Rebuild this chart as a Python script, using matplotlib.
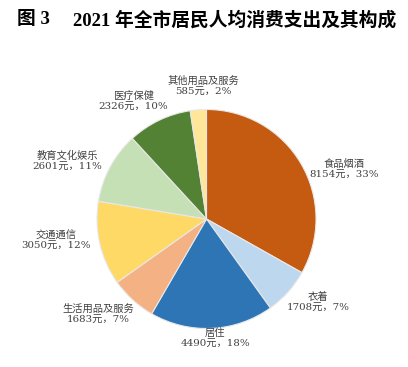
import matplotlib
matplotlib.use('Agg')
import matplotlib.pyplot as plt

# 数据
categories = ['食品烟酒', '衣着', '居住', '生活用品及服务',
              '交通通信', '教育文化娱乐', '医疗保健', '其他用品及服务']
values = [8154, 1708, 4490, 1683, 3050, 2601, 2326, 585]
percents = [33, 7, 18, 7, 12, 11, 10, 2]
colors = ['#C55A11', '#BDD7EE', '#2E75B6', '#F4B183',
          '#FFD966', '#C5E0B4', '#548235', '#FFE699']

# 标签位置（以半径为单位，相对饼心）
label_pos = [(1.26, 0.45), (1.02, -0.76), (0.08, -1.09), (-0.99, -0.87),
             (-1.37, -0.20), (-1.27, 0.53), (-0.67, 1.07), (-0.03, 1.21)]

title_fonts = ['Liberation Serif', 'Noto Sans CJK SC']
label_fonts = ['DejaVu Serif', 'Noto Sans CJK SC']
W, H = 408, 367
cx, cy, r = 206.5, 219, 109.5  # 饼心与半径（像素）

fig = plt.figure(figsize=(W / 100, H / 100), dpi=100)
ax = fig.add_axes([0, 0, 1, 1])

ax.pie(values, colors=colors, startangle=90, counterclock=False,
       radius=1, center=(0, 0),
       wedgeprops=dict(edgecolor='#E8E8E8', linewidth=0.8))

# pie 会重设坐标范围，之后再设
ax.set_xlim(-cx / r, (W - cx) / r)
ax.set_ylim((cy - H) / r, cy / r)
ax.set_aspect('equal')
ax.axis('off')

for name, v, p, (lx, ly) in zip(categories, values, percents, label_pos):
    ax.text(lx, ly, f'{name}\n{v}元，{p}%', ha='center', va='center',
            fontsize=7.4, color='#404040', family=label_fonts, linespacing=1.25)

fig.text(17 / W, 1 - 20 / H, '图 3', ha='left', va='center',
         fontsize=13.5, fontweight='bold', family=title_fonts)
fig.text(73 / W, 1 - 20 / H, '2021 年全市居民人均消费支出及其构成',
         ha='left', va='center', fontsize=13.5, fontweight='bold', family=title_fonts)

fig.savefig('out.png', dpi=100)
